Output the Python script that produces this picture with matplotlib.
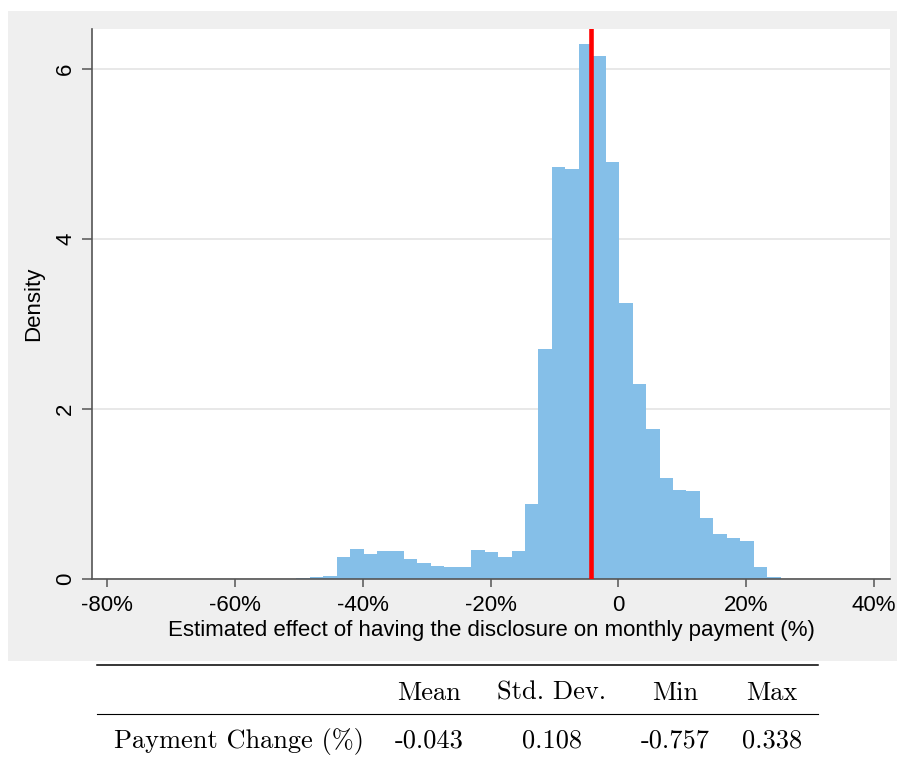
import numpy as np
import matplotlib
matplotlib.use("Agg")
import matplotlib.pyplot as plt
from matplotlib.patches import Rectangle
from matplotlib.lines import Line2D

# histogram densities (52 equal bins from min to max)
densities = [0.002, 0, 0, 0, 0, 0, 0, 0, 0, 0,
             0, 0.003, 0.015, 0.03, 0.035, 0.26, 0.356, 0.294, 0.337, 0.337,
             0.235, 0.195, 0.16, 0.145, 0.145, 0.35, 0.318, 0.262, 0.337, 0.886,
             2.706, 4.854, 4.83, 6.30, 6.156, 4.91, 3.247, 2.298, 1.765, 1.188,
             1.05, 1.04, 0.725, 0.533, 0.482, 0.454, 0.141, 0.024, 0.003, 0,
             0, 0.002]

# summary stats table
stat_names = ["Mean", "Std. Dev.", "Min", "Max"]
row_label = "Payment Change (%)"
stat_values = [-0.043, 0.108, -0.757, 0.338]

x_ticks = [-0.8, -0.6, -0.4, -0.2, 0.0, 0.2, 0.4]
x_tick_labels = ["-80%", "-60%", "-40%", "-20%", "0", "20%", "40%"]
y_ticks = [0, 2, 4, 6]

W, H = 897, 759
fig = plt.figure(figsize=(W / 100, H / 100), dpi=100)
fig.patch.set_facecolor("white")

# light gray graph region (Stata style)
bg = Rectangle((8 / W, 1 - 661 / H), (W - 8) / W, 650 / H,
               transform=fig.transFigure, facecolor="#efefef",
               edgecolor="none", zorder=-5)
fig.add_artist(bg)

ax = fig.add_axes([92 / W, 1 - 579.3 / H, 798 / W, 550.3 / H])
ax.set_zorder(1)
ax.set_facecolor("white")

x_min, x_max = stat_values[2], stat_values[3]
edges = np.linspace(x_min, x_max, len(densities) + 1)
ax.bar(edges[:-1], densities, width=np.diff(edges), align="edge",
       color="#85bfe8", edgecolor="none", zorder=2)

ax.axvline(stat_values[0], color="#ff0000", lw=3.3, zorder=3)

ax.set_xlim(-0.824, 0.425)
ax.set_ylim(0, 6.474)
ax.set_xticks(x_ticks)
ax.set_xticklabels(x_tick_labels)
ax.set_yticks(y_ticks)
ax.set_yticklabels([str(v) for v in y_ticks], rotation=90, va="center")

ax.yaxis.grid(True, color="#e6e6e6", lw=1.3, zorder=1)
ax.set_axisbelow(True)
for s in ["top", "right"]:
    ax.spines[s].set_visible(False)
for s in ["left", "bottom"]:
    ax.spines[s].set_color("#555555")
    ax.spines[s].set_linewidth(1.2)

sans = ["Liberation Sans", "DejaVu Sans"]
ax.tick_params(axis="x", length=6, width=1.1, color="#555555", pad=5,
               labelsize=16)
ax.tick_params(axis="y", length=7.5, width=1.1, color="#555555", pad=4,
               labelsize=16)
for lab in ax.get_xticklabels() + ax.get_yticklabels():
    lab.set_family(sans)

ax.set_xlabel("Estimated effect of having the disclosure on monthly payment (%)",
              family=sans, fontsize=16, labelpad=3)
ax.set_ylabel("Density", family=sans, fontsize=16, labelpad=8)

# table below the chart
serif = ["cmr10", "DejaVu Serif"]
tx = 1 / W
ty = lambda y: 1 - y / H
fig.add_artist(Line2D([97 * tx, 818 * tx], [ty(665), ty(665)], color="black", lw=1.1))
fig.add_artist(Line2D([97 * tx, 818 * tx], [ty(714), ty(714)], color="black", lw=0.8))

col_x = [429, 552, 675, 772]
for name, cx in zip(stat_names, col_x):
    fig.text(cx * tx, ty(700), name, ha="center", va="baseline",
             family=serif, fontsize=19)
fig.text(114 * tx, ty(748), row_label, ha="left", va="baseline",
         family=serif, fontsize=19)
for val, cx in zip(stat_values, col_x):
    fig.text(cx * tx, ty(748), f"{val:.3f}", ha="center", va="baseline",
             family=serif, fontsize=19)

fig.savefig("out.png", dpi=100)
